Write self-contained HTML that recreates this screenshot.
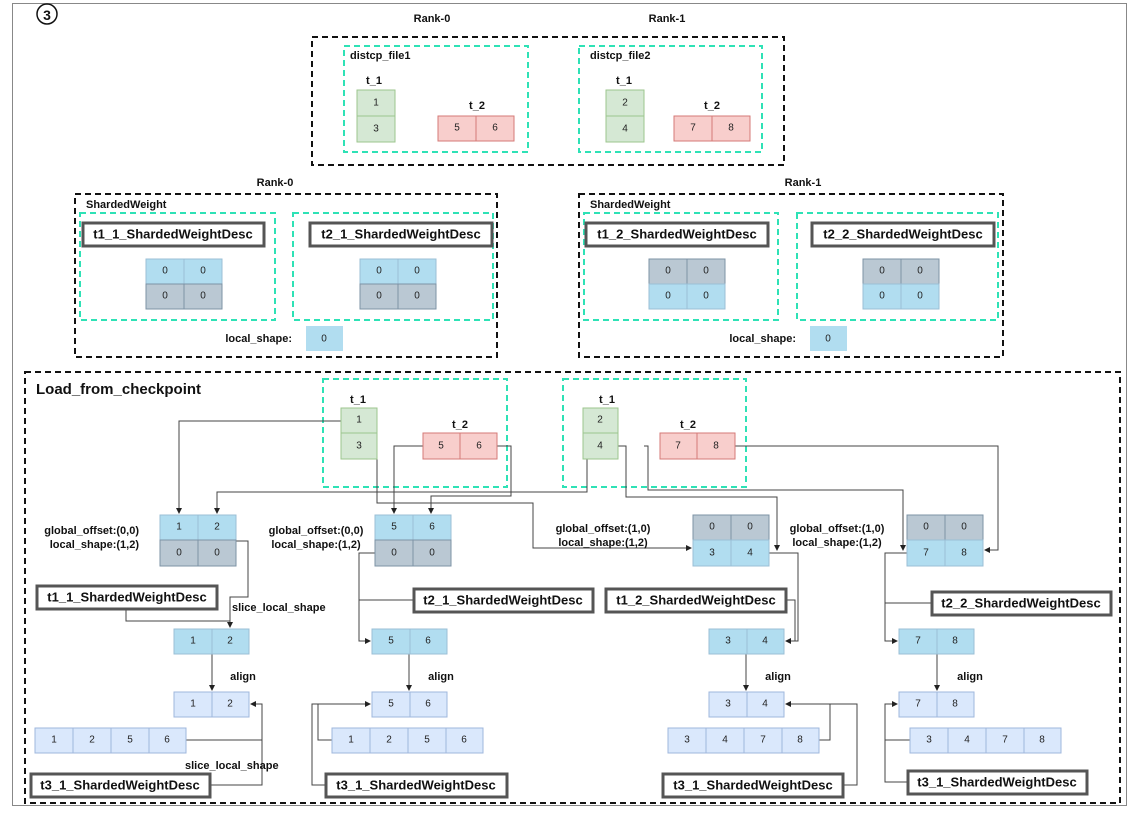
<!DOCTYPE html>
<html><head><meta charset="utf-8"><style>
html,body{margin:0;padding:0;background:#fff;}
svg{display:block;font-family:"Liberation Sans",Arial,sans-serif;}
.c{font-size:10px;fill:#222;text-anchor:middle;dominant-baseline:central;}
.b{font-weight:bold;font-size:11px;fill:#111;}
.d{font-weight:bold;font-size:13px;fill:#111;text-anchor:middle;dominant-baseline:central;}
.bl{fill:#b1ddf0;stroke:#9bbfd6;}
.gr{fill:#bac8d3;stroke:#7d93a6;}
.lb{fill:#dae8fc;stroke:#9fb7dc;}
.gn{fill:#d5e8d4;stroke:#9cc68e;}
.rd{fill:#f8cecc;stroke:#d47a77;}
.k{fill:none;stroke:#111;stroke-width:2;stroke-dasharray:6 4;}
.cy{fill:none;stroke:#2ee2b6;stroke-width:2;stroke-dasharray:6 4;}
.ds{fill:#fff;stroke:#555;stroke-width:3;}
.ln{fill:none;stroke:#444;stroke-width:1;}
</style></head><body>
<svg width="1135" height="813" viewBox="0 0 1135 813">
<defs><marker id="a" markerWidth="6" markerHeight="6" refX="5" refY="3" orient="auto"><path d="M0,0L6,3L0,6z" fill="#222"/></marker></defs>
<rect x="12.5" y="3.5" width="1114" height="802" fill="none" stroke="#888"/>
<circle cx="47" cy="14" r="10" fill="#fff" stroke="#111" stroke-width="1.5"/>
<text x="47" y="15" class="d" style="font-size:14px">3</text>

<!-- top -->
<text x="432" y="22" class="b" text-anchor="middle">Rank-0</text>
<text x="667" y="22" class="b" text-anchor="middle">Rank-1</text>
<rect x="312" y="37" width="472" height="128" class="k"/>
<rect x="344" y="46" width="184" height="106" class="cy"/>
<rect x="579" y="46" width="183" height="106" class="cy"/>
<text x="350" y="59" class="b">distcp_file1</text>
<text x="590" y="59" class="b">distcp_file2</text>
<text x="374" y="84" class="b" text-anchor="middle">t_1</text>
<text x="624" y="84" class="b" text-anchor="middle">t_1</text>
<text x="477" y="109" class="b" text-anchor="middle">t_2</text>
<text x="712" y="109" class="b" text-anchor="middle">t_2</text>
<rect x="357" y="90" width="38" height="26" class="gn"/><text x="376" y="103" class="c">1</text>
<rect x="357" y="116" width="38" height="26" class="gn"/><text x="376" y="129" class="c">3</text>
<rect x="438" y="116" width="38" height="25" class="rd"/><text x="457" y="128" class="c">5</text>
<rect x="476" y="116" width="38" height="25" class="rd"/><text x="495" y="128" class="c">6</text>
<rect x="606" y="90" width="38" height="26" class="gn"/><text x="625" y="103" class="c">2</text>
<rect x="606" y="116" width="38" height="26" class="gn"/><text x="625" y="129" class="c">4</text>
<rect x="674" y="116" width="38" height="25" class="rd"/><text x="693" y="128" class="c">7</text>
<rect x="712" y="116" width="38" height="25" class="rd"/><text x="731" y="128" class="c">8</text>

<!-- middle -->
<text x="275" y="186" class="b" text-anchor="middle">Rank-0</text>
<text x="803" y="186" class="b" text-anchor="middle">Rank-1</text>
<rect x="75" y="194" width="422" height="163" class="k"/>
<rect x="579" y="194" width="424" height="163" class="k"/>
<text x="86" y="208" class="b">ShardedWeight</text>
<text x="590" y="208" class="b">ShardedWeight</text>
<rect x="80" y="213" width="195" height="107" class="cy"/>
<rect x="293" y="213" width="200" height="107" class="cy"/>
<rect x="584" y="213" width="194" height="107" class="cy"/>
<rect x="797" y="213" width="201" height="107" class="cy"/>
<rect x="83" y="223" width="181" height="23" class="ds"/><text x="173" y="234" class="d">t1_1_ShardedWeightDesc</text>
<rect x="310" y="223" width="182" height="23" class="ds"/><text x="401" y="234" class="d">t2_1_ShardedWeightDesc</text>
<rect x="586" y="223" width="182" height="23" class="ds"/><text x="677" y="234" class="d">t1_2_ShardedWeightDesc</text>
<rect x="812" y="223" width="182" height="23" class="ds"/><text x="903" y="234" class="d">t2_2_ShardedWeightDesc</text>

<rect x="146" y="259" width="38" height="25" class="bl"/><text x="165" y="271" class="c">0</text>
<rect x="184" y="259" width="38" height="25" class="bl"/><text x="203" y="271" class="c">0</text>
<rect x="146" y="284" width="38" height="25" class="gr"/><text x="165" y="296" class="c">0</text>
<rect x="184" y="284" width="38" height="25" class="gr"/><text x="203" y="296" class="c">0</text>
<rect x="360" y="259" width="38" height="25" class="bl"/><text x="379" y="271" class="c">0</text>
<rect x="398" y="259" width="38" height="25" class="bl"/><text x="417" y="271" class="c">0</text>
<rect x="360" y="284" width="38" height="25" class="gr"/><text x="379" y="296" class="c">0</text>
<rect x="398" y="284" width="38" height="25" class="gr"/><text x="417" y="296" class="c">0</text>
<rect x="649" y="259" width="38" height="25" class="gr"/><text x="668" y="271" class="c">0</text>
<rect x="687" y="259" width="38" height="25" class="gr"/><text x="706" y="271" class="c">0</text>
<rect x="649" y="284" width="38" height="25" class="bl"/><text x="668" y="296" class="c">0</text>
<rect x="687" y="284" width="38" height="25" class="bl"/><text x="706" y="296" class="c">0</text>
<rect x="863" y="259" width="38" height="25" class="gr"/><text x="882" y="271" class="c">0</text>
<rect x="901" y="259" width="38" height="25" class="gr"/><text x="920" y="271" class="c">0</text>
<rect x="863" y="284" width="38" height="25" class="bl"/><text x="882" y="296" class="c">0</text>
<rect x="901" y="284" width="38" height="25" class="bl"/><text x="920" y="296" class="c">0</text>
<text x="292" y="342" class="b" text-anchor="end">local_shape:</text>
<rect x="306" y="326" width="37" height="25" fill="#b1ddf0"/><text x="324" y="339" class="c">0</text>
<text x="796" y="342" class="b" text-anchor="end">local_shape:</text>
<rect x="810" y="326" width="37" height="25" fill="#b1ddf0"/><text x="828" y="339" class="c">0</text>

<!-- bottom -->
<rect x="25" y="372" width="1095" height="431" class="k"/>
<text x="36" y="394" style="font-weight:bold;font-size:15px;fill:#111">Load_from_checkpoint</text>
<rect x="323" y="379" width="184" height="108" class="cy"/>
<rect x="563" y="379" width="183" height="108" class="cy"/>
<text x="358" y="403" class="b" text-anchor="middle">t_1</text>
<text x="607" y="403" class="b" text-anchor="middle">t_1</text>
<text x="460" y="428" class="b" text-anchor="middle">t_2</text>
<text x="688" y="428" class="b" text-anchor="middle">t_2</text>

<!-- connectors -->
<path class="ln" d="M341,421H179V513" marker-end="url(#a)"/>
<path class="ln" d="M587,421V492H217V513" marker-end="url(#a)"/>
<path class="ln" d="M423,446H394V513" marker-end="url(#a)"/>
<path class="ln" d="M497,446H511V496H431V513" marker-end="url(#a)"/>
<path class="ln" d="M377,446V503H533V548H691" marker-end="url(#a)"/>
<path class="ln" d="M617,446H626V497H777V550" marker-end="url(#a)"/>
<path class="ln" d="M644,446H648V490H903V550" marker-end="url(#a)"/>
<path class="ln" d="M735,446H998V550H985" marker-end="url(#a)"/>

<path class="ln" d="M236,541H248V597H230V627" marker-end="url(#a)"/>
<path class="ln" d="M126,609V621H230"/>
<path class="ln" d="M375,553H359V641H370" marker-end="url(#a)"/>
<path class="ln" d="M413,600H359"/>
<path class="ln" d="M768,553H798V641H786" marker-end="url(#a)"/>
<path class="ln" d="M786,600H795V641"/>
<path class="ln" d="M907,553H885V641H897" marker-end="url(#a)"/>
<path class="ln" d="M931,603H885"/>

<path class="ln" d="M212,654V690" marker-end="url(#a)"/>
<path class="ln" d="M409,654V690" marker-end="url(#a)"/>
<path class="ln" d="M746,654V690" marker-end="url(#a)"/>
<path class="ln" d="M937,654V690" marker-end="url(#a)"/>

<path class="ln" d="M186,740H262V704H251" marker-end="url(#a)"/>
<path class="ln" d="M210,785H262V740"/>
<path class="ln" d="M332,740H318V704H370" marker-end="url(#a)"/>
<path class="ln" d="M325,785H312V704H318"/>
<path class="ln" d="M819,740H830V704H786" marker-end="url(#a)"/>
<path class="ln" d="M843,785H857V704H830"/>
<path class="ln" d="M910,740H885V704H897" marker-end="url(#a)"/>
<path class="ln" d="M907,782H885V740"/>

<!-- bottom tensors -->
<rect x="341" y="408" width="36" height="25" class="gn"/><text x="359" y="420" class="c">1</text>
<rect x="341" y="433" width="36" height="26" class="gn"/><text x="359" y="446" class="c">3</text>
<rect x="423" y="433" width="37" height="26" class="rd"/><text x="441" y="446" class="c">5</text>
<rect x="460" y="433" width="37" height="26" class="rd"/><text x="479" y="446" class="c">6</text>
<rect x="583" y="408" width="35" height="25" class="gn"/><text x="600" y="420" class="c">2</text>
<rect x="583" y="433" width="35" height="26" class="gn"/><text x="600" y="446" class="c">4</text>
<rect x="660" y="433" width="37" height="26" class="rd"/><text x="678" y="446" class="c">7</text>
<rect x="697" y="433" width="38" height="26" class="rd"/><text x="716" y="446" class="c">8</text>

<text x="139" y="534" class="b" text-anchor="end">global_offset:(0,0)</text>
<text x="139" y="548" class="b" text-anchor="end">local_shape:(1,2)</text>
<text x="316" y="534" class="b" text-anchor="middle">global_offset:(0,0)</text>
<text x="316" y="548" class="b" text-anchor="middle">local_shape:(1,2)</text>
<text x="603" y="532" class="b" text-anchor="middle">global_offset:(1,0)</text>
<text x="603" y="546" class="b" text-anchor="middle">local_shape:(1,2)</text>
<text x="837" y="532" class="b" text-anchor="middle">global_offset:(1,0)</text>
<text x="837" y="546" class="b" text-anchor="middle">local_shape:(1,2)</text>

<rect x="160" y="515" width="38" height="25" class="bl"/><text x="179" y="527" class="c">1</text>
<rect x="198" y="515" width="38" height="25" class="bl"/><text x="217" y="527" class="c">2</text>
<rect x="160" y="540" width="38" height="26" class="gr"/><text x="179" y="553" class="c">0</text>
<rect x="198" y="540" width="38" height="26" class="gr"/><text x="217" y="553" class="c">0</text>
<rect x="375" y="515" width="38" height="25" class="bl"/><text x="394" y="527" class="c">5</text>
<rect x="413" y="515" width="38" height="25" class="bl"/><text x="432" y="527" class="c">6</text>
<rect x="375" y="540" width="38" height="26" class="gr"/><text x="394" y="553" class="c">0</text>
<rect x="413" y="540" width="38" height="26" class="gr"/><text x="432" y="553" class="c">0</text>
<rect x="693" y="515" width="38" height="25" class="gr"/><text x="712" y="527" class="c">0</text>
<rect x="731" y="515" width="38" height="25" class="gr"/><text x="750" y="527" class="c">0</text>
<rect x="693" y="540" width="38" height="26" class="bl"/><text x="712" y="553" class="c">3</text>
<rect x="731" y="540" width="38" height="26" class="bl"/><text x="750" y="553" class="c">4</text>
<rect x="907" y="515" width="38" height="25" class="gr"/><text x="926" y="527" class="c">0</text>
<rect x="945" y="515" width="38" height="25" class="gr"/><text x="964" y="527" class="c">0</text>
<rect x="907" y="540" width="38" height="26" class="bl"/><text x="926" y="553" class="c">7</text>
<rect x="945" y="540" width="38" height="26" class="bl"/><text x="964" y="553" class="c">8</text>

<rect x="37" y="586" width="180" height="23" class="ds"/><text x="127" y="597" class="d">t1_1_ShardedWeightDesc</text>
<rect x="414" y="589" width="179" height="23" class="ds"/><text x="503" y="600" class="d">t2_1_ShardedWeightDesc</text>
<rect x="606" y="589" width="180" height="23" class="ds"/><text x="696" y="600" class="d">t1_2_ShardedWeightDesc</text>
<rect x="932" y="592" width="179" height="23" class="ds"/><text x="1021" y="603" class="d">t2_2_ShardedWeightDesc</text>
<text x="232" y="611" class="b">slice_local_shape</text>
<text x="185" y="769" class="b">slice_local_shape</text>

<rect x="174" y="629" width="38" height="25" class="bl"/><text x="193" y="641" class="c">1</text>
<rect x="212" y="629" width="37" height="25" class="bl"/><text x="230" y="641" class="c">2</text>
<rect x="372" y="629" width="38" height="25" class="bl"/><text x="391" y="641" class="c">5</text>
<rect x="410" y="629" width="37" height="25" class="bl"/><text x="428" y="641" class="c">6</text>
<rect x="709" y="629" width="38" height="25" class="bl"/><text x="728" y="641" class="c">3</text>
<rect x="747" y="629" width="37" height="25" class="bl"/><text x="765" y="641" class="c">4</text>
<rect x="899" y="629" width="38" height="25" class="bl"/><text x="918" y="641" class="c">7</text>
<rect x="937" y="629" width="37" height="25" class="bl"/><text x="955" y="641" class="c">8</text>

<text x="243" y="680" class="b" text-anchor="middle">align</text>
<text x="441" y="680" class="b" text-anchor="middle">align</text>
<text x="778" y="680" class="b" text-anchor="middle">align</text>
<text x="970" y="680" class="b" text-anchor="middle">align</text>

<rect x="174" y="692" width="38" height="25" class="lb"/><text x="193" y="704" class="c">1</text>
<rect x="212" y="692" width="37" height="25" class="lb"/><text x="230" y="704" class="c">2</text>
<rect x="372" y="692" width="38" height="25" class="lb"/><text x="391" y="704" class="c">5</text>
<rect x="410" y="692" width="37" height="25" class="lb"/><text x="428" y="704" class="c">6</text>
<rect x="709" y="692" width="38" height="25" class="lb"/><text x="728" y="704" class="c">3</text>
<rect x="747" y="692" width="37" height="25" class="lb"/><text x="765" y="704" class="c">4</text>
<rect x="899" y="692" width="38" height="25" class="lb"/><text x="918" y="704" class="c">7</text>
<rect x="937" y="692" width="37" height="25" class="lb"/><text x="955" y="704" class="c">8</text>

<rect x="35" y="728" width="38" height="25" class="lb"/><text x="54" y="740" class="c">1</text>
<rect x="73" y="728" width="38" height="25" class="lb"/><text x="92" y="740" class="c">2</text>
<rect x="111" y="728" width="38" height="25" class="lb"/><text x="130" y="740" class="c">5</text>
<rect x="149" y="728" width="37" height="25" class="lb"/><text x="167" y="740" class="c">6</text>
<rect x="332" y="728" width="38" height="25" class="lb"/><text x="351" y="740" class="c">1</text>
<rect x="370" y="728" width="38" height="25" class="lb"/><text x="389" y="740" class="c">2</text>
<rect x="408" y="728" width="38" height="25" class="lb"/><text x="427" y="740" class="c">5</text>
<rect x="446" y="728" width="37" height="25" class="lb"/><text x="464" y="740" class="c">6</text>
<rect x="668" y="728" width="38" height="25" class="lb"/><text x="687" y="740" class="c">3</text>
<rect x="706" y="728" width="38" height="25" class="lb"/><text x="725" y="740" class="c">4</text>
<rect x="744" y="728" width="38" height="25" class="lb"/><text x="763" y="740" class="c">7</text>
<rect x="782" y="728" width="37" height="25" class="lb"/><text x="800" y="740" class="c">8</text>
<rect x="910" y="728" width="38" height="25" class="lb"/><text x="929" y="740" class="c">3</text>
<rect x="948" y="728" width="38" height="25" class="lb"/><text x="967" y="740" class="c">4</text>
<rect x="986" y="728" width="38" height="25" class="lb"/><text x="1005" y="740" class="c">7</text>
<rect x="1024" y="728" width="37" height="25" class="lb"/><text x="1042" y="740" class="c">8</text>

<rect x="31" y="774" width="179" height="23" class="ds"/><text x="120" y="785" class="d">t3_1_ShardedWeightDesc</text>
<rect x="326" y="774" width="181" height="23" class="ds"/><text x="416" y="785" class="d">t3_1_ShardedWeightDesc</text>
<rect x="663" y="774" width="180" height="23" class="ds"/><text x="753" y="785" class="d">t3_1_ShardedWeightDesc</text>
<rect x="908" y="771" width="179" height="23" class="ds"/><text x="997" y="782" class="d">t3_1_ShardedWeightDesc</text>
</svg>
</body></html>
